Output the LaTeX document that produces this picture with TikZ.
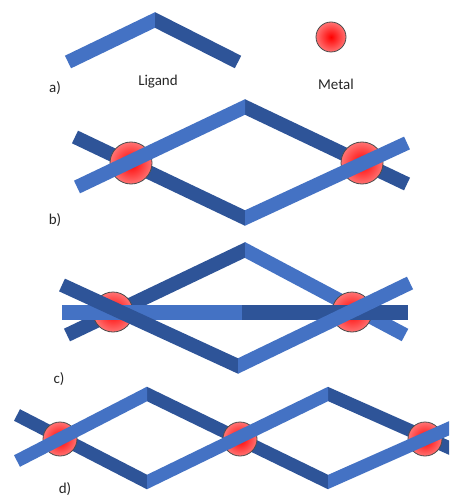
\documentclass[tikz,border=0pt]{standalone}
\usepackage{fontspec}
\setmainfont{Carlito}
\usetikzlibrary{calc}
\definecolor{barlight}{RGB}{68,114,196}
\definecolor{bardark}{RGB}{46,84,152}
\definecolor{metaledge}{RGB}{255,115,115}
\tikzset{
  light/.style={draw=barlight, line width=14pt},
  dark/.style={draw=bardark, line width=14pt},
  lbl/.style={anchor=base, font=\fontsize{15}{18}\selectfont, text=black!85},
  metal/.style={circle, minimum size=#1, inner sep=0pt, draw=black!70, line width=0.8pt,
    inner color=red, outer color=metaledge},
}
% one arm of a ligand: free end #2, joint #3; the joint is mitred along the vertical through #3
\newcommand\armleft[3]{%
  \begin{scope}
    \clip ($(#3)+(-600,-600)$) rectangle ($(#3)+(0,600)$);
    \draw[#1] (#2) -- ($(#3)!-10pt!(#2)$);
  \end{scope}}
\newcommand\armright[3]{%
  \begin{scope}
    \clip ($(#3)+(0,-600)$) rectangle ($(#3)+(600,600)$);
    \draw[#1] (#2) -- ($(#3)!-10pt!(#2)$);
  \end{scope}}
% an arm with joints at both ends, #2 left of #3
\newcommand\armboth[3]{%
  \begin{scope}
    \clip ($(#2)+(0,-600)$) rectangle ($(#3)+(0,600)$);
    \draw[#1] ($(#2)!-10pt!(#3)$) -- ($(#3)!-10pt!(#2)$);
  \end{scope}}
\newcommand\metalball[3]{%
  \node[metal=#3] (#1) at (#2) {};}
\begin{document}
\begin{tikzpicture}[x=1pt, y=-1pt]
\useasboundingbox (0,0) rectangle (449,497);
\clip (0,0) rectangle (449,497);
\fill[white] (0,0) rectangle (449,497);

% ---------- a) building blocks ----------
\coordinate (aL) at (68,62);
\coordinate (aT) at (155,20);
\coordinate (aR) at (238,62);
\armleft{light}{aL}{aT}
\armright{dark}{aR}{aT}
\metalball{am}{331,37}{30pt}
\node[lbl] (la) at (55,93) {a)};
\node[lbl] (ligand) at (158,86) {Ligand};
\node[lbl] (metal) at (336,90) {Metal};

% ---------- b) dimer ----------
\coordinate (bT) at (245,107);
\coordinate (bB) at (245,218);
\coordinate (bL1) at (77,187);
\coordinate (bR1) at (407,184);
\coordinate (bL2) at (75,137);
\coordinate (bR2) at (407,143);
\armleft{dark}{bL2}{bB}
\armright{dark}{bR1}{bT}
\metalball{bm1}{131,163}{42pt}
\metalball{bm2}{362,163}{42pt}
\armleft{light}{bL1}{bT}
\armright{light}{bR2}{bB}
\node[lbl] (lb) at (55,224) {b)};

% ---------- c) dimer with bridging ligand ----------
\coordinate (cT) at (245,250);
\coordinate (cB) at (238,366);
\coordinate (cL1) at (67,335);
\coordinate (cR1) at (405,335);
\coordinate (cL2) at (62,285);
\coordinate (cR2) at (410,283);
\coordinate (cH1) at (62,312);
\coordinate (cHm) at (242,312);
\coordinate (cH2) at (408,312);
\armleft{dark, line width=14pt}{cL1}{cT}
\armright{light, line width=14pt}{cR1}{cT}
\metalball{cm1}{113,312}{40pt}
\metalball{cm2}{352,312}{40pt}
\draw[light, line width=15pt] (cH1) -- (cHm);
\draw[dark, line width=15pt] (cHm) -- (cH2);
\armleft{dark, line width=14pt}{cL2}{cB}
\armright{light, line width=14pt}{cR2}{cB}
\node[lbl] (lc) at (59,383) {c)};

% ---------- d) chain ----------
\coordinate (dL1) at (17,415);
\coordinate (dL2) at (17,461);
\coordinate (dT1) at (147,394);
\coordinate (dB1) at (147,482);
\coordinate (dT2) at (328,394);
\coordinate (dB2) at (328,482);
\coordinate (dE1) at (470,457);
\coordinate (dE2) at (470,419);
\begin{scope}[dark/.append style={line width=13pt}, light/.append style={line width=13pt}]
\armleft{dark}{dL1}{dB1}
\armboth{dark}{dT1}{dB2}
\armright{dark}{dE1}{dT2}
\metalball{dm1}{60,439}{34pt}
\metalball{dm2}{240,439}{34pt}
\metalball{dm3}{425,439}{34pt}
\armleft{light}{dL2}{dT1}
\armboth{light}{dB1}{dT2}
\armright{light}{dE2}{dB2}
\end{scope}
\node[lbl] (ld) at (65,493) {d)};
\end{tikzpicture}
\end{document}
